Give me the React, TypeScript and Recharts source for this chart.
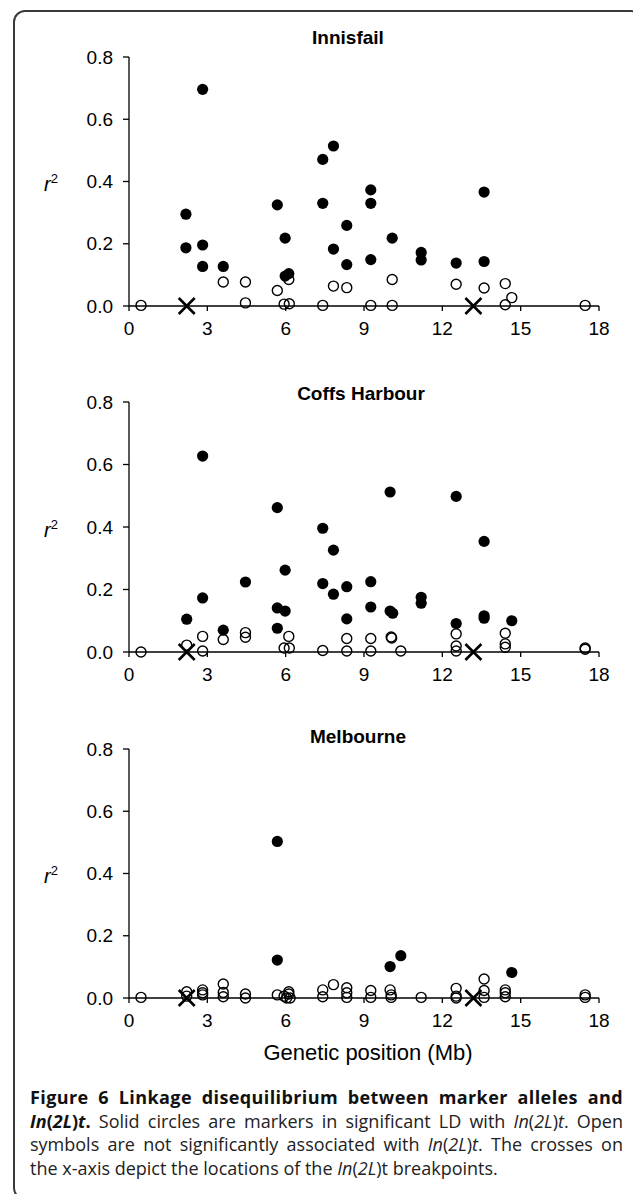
import React from "react";
import { ScatterChart, Scatter, XAxis, YAxis } from "recharts";

const xTicks = [0, 3, 6, 9, 12, 15, 18];
const yTicks = [0, 0.2, 0.4, 0.6, 0.8];

// In(2L)t breakpoints (Mb), drawn as crosses on the x-axis
const breakpoints = [2.21, 13.19];

// Innisfail
const innisfailSig = [
  { x: 2.18, y: 0.295 }, { x: 2.18, y: 0.187 }, { x: 2.82, y: 0.696 }, { x: 2.82, y: 0.196 },
  { x: 2.82, y: 0.127 }, { x: 3.61, y: 0.127 }, { x: 5.68, y: 0.325 }, { x: 5.98, y: 0.218 },
  { x: 5.98, y: 0.096 }, { x: 6.12, y: 0.104 }, { x: 7.42, y: 0.471 }, { x: 7.42, y: 0.33 },
  { x: 7.83, y: 0.514 }, { x: 7.83, y: 0.183 }, { x: 8.34, y: 0.259 }, { x: 8.34, y: 0.133 },
  { x: 9.26, y: 0.373 }, { x: 9.26, y: 0.33 }, { x: 9.26, y: 0.149 }, { x: 10.08, y: 0.218 },
  { x: 11.19, y: 0.172 }, { x: 11.19, y: 0.148 }, { x: 12.53, y: 0.138 }, { x: 13.6, y: 0.366 },
  { x: 13.6, y: 0.143 },
];
const innisfailNs = [
  { x: 0.46, y: 0.002 }, { x: 3.61, y: 0.077 }, { x: 4.46, y: 0.077 }, { x: 4.46, y: 0.01 },
  { x: 5.68, y: 0.05 }, { x: 6.12, y: 0.085 }, { x: 5.94, y: 0.006 }, { x: 6.14, y: 0.007 },
  { x: 7.42, y: 0.002 }, { x: 7.83, y: 0.064 }, { x: 8.34, y: 0.059 }, { x: 9.26, y: 0.002 },
  { x: 10.08, y: 0.085 }, { x: 10.08, y: 0.002 }, { x: 12.53, y: 0.07 }, { x: 13.6, y: 0.058 },
  { x: 14.41, y: 0.072 }, { x: 14.41, y: 0.004 }, { x: 14.66, y: 0.027 }, { x: 17.47, y: 0.002 },
];

// Coffs Harbour
const coffsSig = [
  { x: 2.21, y: 0.105 }, { x: 2.82, y: 0.627 }, { x: 2.82, y: 0.173 }, { x: 3.61, y: 0.07 },
  { x: 4.46, y: 0.224 }, { x: 5.68, y: 0.462 }, { x: 5.68, y: 0.141 }, { x: 5.68, y: 0.076 },
  { x: 5.98, y: 0.262 }, { x: 5.98, y: 0.131 }, { x: 7.42, y: 0.396 }, { x: 7.42, y: 0.219 },
  { x: 7.83, y: 0.326 }, { x: 7.83, y: 0.185 }, { x: 8.34, y: 0.209 }, { x: 8.34, y: 0.106 },
  { x: 9.26, y: 0.225 }, { x: 9.26, y: 0.144 }, { x: 10.0, y: 0.512 }, { x: 10.0, y: 0.131 },
  { x: 10.1, y: 0.124 }, { x: 11.19, y: 0.175 }, { x: 11.19, y: 0.156 }, { x: 12.53, y: 0.498 },
  { x: 12.53, y: 0.091 }, { x: 13.6, y: 0.354 }, { x: 13.6, y: 0.116 }, { x: 13.6, y: 0.108 },
  { x: 14.66, y: 0.1 },
];
const coffsNs = [
  { x: 0.46, y: 0.0 }, { x: 2.21, y: 0.022 }, { x: 2.82, y: 0.05 }, { x: 2.82, y: 0.003 },
  { x: 3.61, y: 0.04 }, { x: 4.46, y: 0.062 }, { x: 4.46, y: 0.047 }, { x: 6.12, y: 0.05 },
  { x: 5.94, y: 0.013 }, { x: 6.14, y: 0.013 }, { x: 7.42, y: 0.005 }, { x: 8.34, y: 0.043 },
  { x: 8.34, y: 0.003 }, { x: 9.26, y: 0.043 }, { x: 9.26, y: 0.003 }, { x: 10.04, y: 0.048 },
  { x: 10.06, y: 0.045 }, { x: 10.41, y: 0.003 }, { x: 12.53, y: 0.058 }, { x: 12.53, y: 0.019 },
  { x: 12.53, y: 0.003 }, { x: 14.41, y: 0.06 }, { x: 14.41, y: 0.026 }, { x: 14.41, y: 0.015 },
  { x: 17.47, y: 0.013 }, { x: 17.47, y: 0.009 },
];

// Melbourne
const melbourneSig = [
  { x: 5.68, y: 0.503 }, { x: 5.68, y: 0.122 }, { x: 10.0, y: 0.101 }, { x: 10.41, y: 0.136 },
  { x: 14.66, y: 0.082 },
];
const melbourneNs = [
  { x: 0.46, y: 0.002 }, { x: 2.21, y: 0.02 }, { x: 2.21, y: 0.006 }, { x: 2.82, y: 0.026 },
  { x: 2.82, y: 0.017 }, { x: 2.82, y: 0.01 }, { x: 3.61, y: 0.045 }, { x: 3.61, y: 0.018 },
  { x: 3.61, y: 0.004 }, { x: 4.46, y: 0.013 }, { x: 4.46, y: 0.0 }, { x: 5.68, y: 0.01 },
  { x: 5.94, y: 0.006 }, { x: 6.12, y: 0.02 }, { x: 6.12, y: 0.013 }, { x: 6.04, y: 0.0 },
  { x: 6.17, y: 0.0 }, { x: 7.42, y: 0.026 }, { x: 7.42, y: 0.004 }, { x: 7.83, y: 0.043 },
  { x: 8.34, y: 0.033 }, { x: 8.34, y: 0.017 }, { x: 8.34, y: 0.002 }, { x: 9.26, y: 0.024 },
  { x: 9.26, y: 0.002 }, { x: 10.0, y: 0.026 }, { x: 10.04, y: 0.01 }, { x: 10.04, y: 0.002 },
  { x: 11.19, y: 0.002 }, { x: 12.53, y: 0.031 }, { x: 12.53, y: 0.006 }, { x: 12.53, y: 0.0 },
  { x: 13.6, y: 0.061 }, { x: 13.6, y: 0.024 }, { x: 13.6, y: 0.002 }, { x: 14.41, y: 0.026 },
  { x: 14.41, y: 0.017 }, { x: 14.41, y: 0.004 }, { x: 17.47, y: 0.01 }, { x: 17.47, y: 0.002 },
];

const crossData = breakpoints.map((x) => ({ x, y: 0 }));

const AXIS_FONT = "'Liberation Sans', Arial, sans-serif";
const CAPTION_FONT = "'Open Sans', 'Noto Sans', sans-serif";

const FilledDot = (p: any) => <circle cx={p.cx} cy={p.cy} r={5.6} fill="#000" />;
const OpenDot = (p: any) => (
  <circle cx={p.cx} cy={p.cy} r={5} fill="none" stroke="#000" strokeWidth={1.4} />
);
const Cross = (p: any) => (
  <path
    d={`M${p.cx - 8},${p.cy - 8}L${p.cx + 8},${p.cy + 8}M${p.cx + 8},${p.cy - 8}L${p.cx - 8},${p.cy + 8}`}
    stroke="#000"
    strokeWidth={2.6}
    fill="none"
  />
);

interface PanelProps {
  top: number;
  plotTop: number;
  plotBottom: number;
  sig: { x: number; y: number }[];
  ns: { x: number; y: number }[];
}

function Panel({ top, plotTop, plotBottom, sig, ns }: PanelProps) {
  const height = plotBottom - top + 40;
  return (
    <div style={{ position: "absolute", left: 0, top, width: 633, height }}>
      <ScatterChart
        width={633}
        height={height}
        margin={{ top: plotTop - top, right: 34, bottom: 0, left: 0 }}
      >
        <XAxis
          type="number"
          dataKey="x"
          domain={[0, 18]}
          ticks={xTicks}
          interval={0}
          height={40}
          tickSize={5}
          tickMargin={11}
          axisLine={{ stroke: "#000", strokeWidth: 1.3 }}
          tickLine={{ stroke: "#000", strokeWidth: 1.3 }}
          tick={{ fill: "#000", fontSize: 19, fontFamily: AXIS_FONT }}
        />
        <YAxis
          type="number"
          dataKey="y"
          domain={[0, 0.8]}
          ticks={yTicks}
          interval={0}
          width={129}
          tickSize={6}
          tickMargin={10}
          tickFormatter={(v: number) => v.toFixed(1)}
          axisLine={{ stroke: "#000", strokeWidth: 1.3 }}
          tickLine={{ stroke: "#000", strokeWidth: 1.3 }}
          tick={{ fill: "#000", fontSize: 19, fontFamily: AXIS_FONT }}
        />
        <Scatter data={sig} shape={FilledDot} isAnimationActive={false} />
        <Scatter data={ns} shape={OpenDot} isAnimationActive={false} />
        <Scatter data={crossData} shape={Cross} isAnimationActive={false} />
      </ScatterChart>
    </div>
  );
}

const titles = [
  { text: "Innisfail", x: 348, y: 44 },
  { text: "Coffs Harbour", x: 361, y: 400 },
  { text: "Melbourne", x: 358, y: 743 },
];
const r2Baselines = [191, 537, 883];

function InL({ t = true }: { t?: boolean }) {
  return (
    <>
      <i>In</i>(<i>2L</i>){t ? <i>t</i> : "t"}
    </>
  );
}

const captionLine: React.CSSProperties = {
  textAlign: "justify",
  textAlignLast: "justify",
};

export default function App() {
  return (
    <div
      style={{
        position: "absolute",
        left: 0,
        top: 0,
        width: 633,
        height: 1194,
        background: "#fff",
        overflow: "hidden",
      }}
    >
      <div
        style={{
          position: "absolute",
          left: 13,
          top: 10,
          width: 630,
          height: 1190,
          border: "2px solid #3a3a3a",
          borderRadius: 12,
          boxSizing: "border-box",
        }}
      />
      <Panel top={10} plotTop={57} plotBottom={306} sig={innisfailSig} ns={innisfailNs} />
      <Panel top={360} plotTop={402} plotBottom={652} sig={coffsSig} ns={coffsNs} />
      <Panel top={710} plotTop={749} plotBottom={998} sig={melbourneSig} ns={melbourneNs} />

      <svg
        width={633}
        height={1194}
        style={{ position: "absolute", left: 0, top: 0, pointerEvents: "none" }}
      >
        {titles.map((t) => (
          <text
            key={t.text}
            x={t.x}
            y={t.y}
            textAnchor="middle"
            fontFamily={AXIS_FONT}
            fontWeight="bold"
            fontSize={19}
            fill="#000"
          >
            {t.text}
          </text>
        ))}
        {r2Baselines.map((y) => (
          <text key={y} x={44} y={y} fontFamily={AXIS_FONT} fontSize={20} fill="#000">
            <tspan fontStyle="italic">r</tspan>
            <tspan fontSize={13} dy={-8}>2</tspan>
          </text>
        ))}
        <text x={368} y={1060} textAnchor="middle" fontFamily={AXIS_FONT} fontSize={22} fill="#000">
          Genetic position (Mb)
        </text>
      </svg>

      <div
        style={{
          position: "absolute",
          left: 30,
          top: 1086,
          width: 593,
          fontFamily: CAPTION_FONT,
          fontSize: 18,
          lineHeight: "23.5px",
          color: "#222",
        }}
      >
        <div style={{ ...captionLine, fontWeight: "bold", color: "#111", letterSpacing: 0.4 }}>
          Figure 6 Linkage disequilibrium between marker alleles and
        </div>
        <div style={captionLine}>
          <b style={{ color: "#111" }}>
            <InL />.
          </b>{" "}
          Solid circles are markers in significant LD with <InL />. Open
        </div>
        <div style={captionLine}>
          symbols are not significantly associated with <InL />. The crosses on
        </div>
        <div>
          the x-axis depict the locations of the <InL t={false} /> breakpoints.
        </div>
      </div>
    </div>
  );
}
